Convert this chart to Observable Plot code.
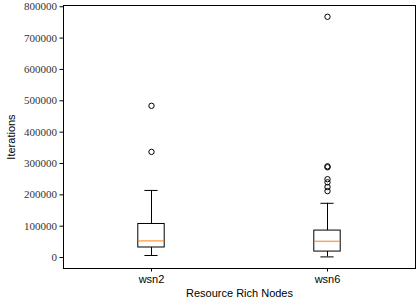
<!DOCTYPE html>
<html>
<head>
<meta charset="utf-8">
<script src="https://cdn.jsdelivr.net/npm/d3@7"></script>
<script src="https://cdn.jsdelivr.net/npm/@observablehq/plot@0.6"></script>
<style>
  html, body { margin: 0; padding: 0; background: #fff; }
</style>
</head>
<body>
<div id="chart"></div>
<script>
// Categories and positions
const groups = ["wsn2", "wsn6"];
const positions = [1, 2];
// Box-plot summary values
const whiskerLow = [6500, 2000];
const q1 = [32000, 19000];
const median = [53000, 52000];
const q3 = [107000, 86000];
const whiskerHigh = [214000, 173000];
// Outliers
const outliersWsn2 = [337000, 484000];
const outliersWsn6 = [212000, 225000, 240000, 250000, 288000, 291000, 768000];
// Tick values
const yTicks = [0, 100000, 200000, 300000, 400000, 500000, 600000, 700000, 800000];

const boxHalf = 0.075;
const capHalf = 0.0375;

const boxes = groups.map((g, i) => ({
  group: g, pos: positions[i], lo: whiskerLow[i], q1: q1[i], med: median[i], q3: q3[i], hi: whiskerHigh[i]
}));
const outliers = [
  ...outliersWsn2.map(v => ({pos: positions[0], value: v})),
  ...outliersWsn6.map(v => ({pos: positions[1], value: v}))
];

const serif = "Liberation Serif";
const sans = "Liberation Sans";

const chart = Plot.plot({
  width: 416,
  height: 305,
  marginLeft: 63,
  marginRight: 1,
  marginTop: 5,
  marginBottom: 37,
  style: {background: "#fff", color: "#000", fontSize: "11px"},
  x: {domain: [0.5, 2.5]},
  y: {domain: [-35000, 804000]},
  marks: [
    Plot.frame({stroke: "#000", strokeWidth: 1}),
    Plot.axisY({
      ticks: yTicks, tickSize: 3.5, tickPadding: 3, tickFormat: d => String(d),
      fontFamily: serif, fontSize: 11, label: "Iterations", labelAnchor: "center", labelArrow: "none", labelOffset: 56
    }),
    Plot.axisX({
      ticks: positions, tickSize: 3.5, tickPadding: 3, tickFormat: d => groups[positions.indexOf(d)],
      fontFamily: sans, fontSize: 11, label: "Resource Rich Nodes", labelAnchor: "center", labelArrow: "none", labelOffset: 28
    }),
    // whiskers
    Plot.ruleX(boxes, {x: "pos", y1: "q3", y2: "hi", stroke: "#000", strokeWidth: 1}),
    Plot.ruleX(boxes, {x: "pos", y1: "lo", y2: "q1", stroke: "#000", strokeWidth: 1}),
    // caps
    Plot.ruleY(boxes, {y: "hi", x1: d => d.pos - capHalf, x2: d => d.pos + capHalf, stroke: "#000", strokeWidth: 1}),
    Plot.ruleY(boxes, {y: "lo", x1: d => d.pos - capHalf, x2: d => d.pos + capHalf, stroke: "#000", strokeWidth: 1}),
    // boxes
    Plot.rect(boxes, {x1: d => d.pos - boxHalf, x2: d => d.pos + boxHalf, y1: "q1", y2: "q3", fill: "none", stroke: "#000", strokeWidth: 1}),
    // medians
    Plot.ruleY(boxes, {y: "med", x1: d => d.pos - boxHalf, x2: d => d.pos + boxHalf, stroke: "#ff7f0e", strokeWidth: 1}),
    // outliers
    Plot.dot(outliers, {x: "pos", y: "value", r: 2.7, stroke: "#000", fill: "none", strokeWidth: 1})
  ]
});

// axis title in sans, y tick numbers in serif
const svg = d3.select(chart);
svg.selectAll('g[aria-label="y-axis label"]').attr("font-family", sans);
svg.selectAll('g[aria-label="y-axis tick label"]').attr("fill", "#333");
document.getElementById("chart").appendChild(chart);
</script>
</body>
</html>
